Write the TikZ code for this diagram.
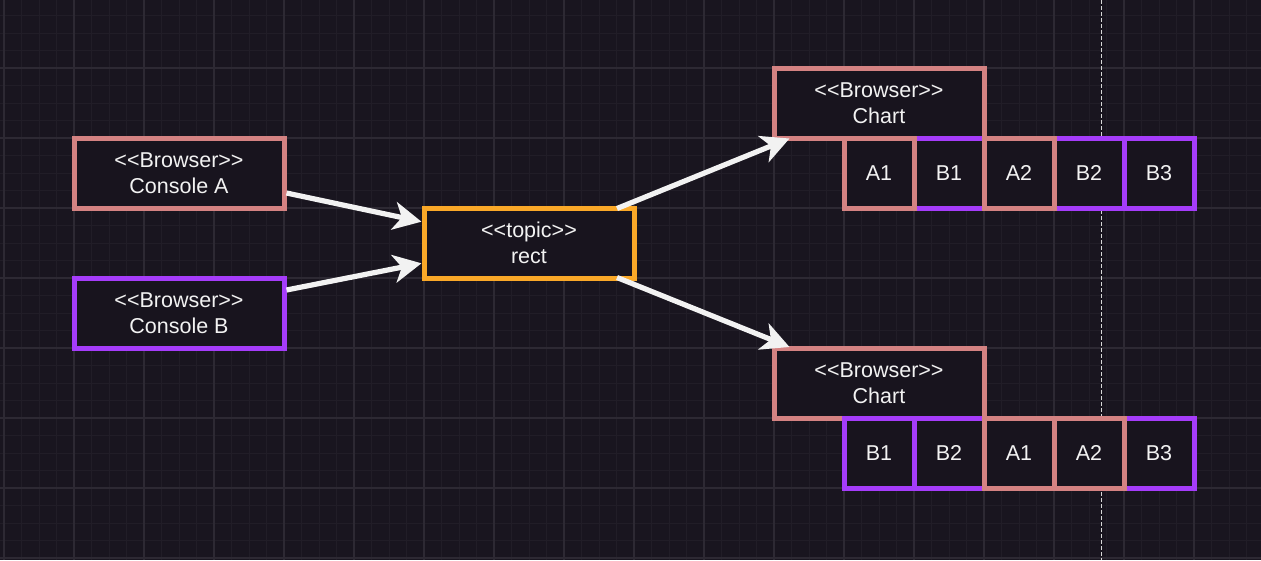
\documentclass[tikz,border=0pt]{standalone}
\usepackage{fontspec}
\setmainfont{Liberation Sans}[Ligatures=NoCommon]
\usetikzlibrary{arrows.meta,calc}
\definecolor{bgc}{RGB}{25,21,31}
\definecolor{fillc}{RGB}{24,20,30}
\definecolor{minorc}{RGB}{33,29,39}
\definecolor{majorc}{RGB}{45,41,51}
\definecolor{pinkc}{RGB}{212,130,130}
\definecolor{purplec}{RGB}{165,60,250}
\definecolor{orangec}{RGB}{250,168,40}
\definecolor{txtc}{RGB}{242,242,242}
\definecolor{arrc}{RGB}{242,242,242}
\definecolor{dashc}{RGB}{215,215,215}
\newcommand{\lt}{<\kern0pt<}
\newcommand{\gt}{>\kern0pt>}
\begin{document}
\begin{tikzpicture}[x=1pt,y=-1pt,
  box/.style={rectangle, draw=#1, fill=fillc, line width=5pt, minimum width=210pt, minimum height=70pt, inner sep=0pt, align=center, text=txtc, font=\fontsize{21.5}{26.5}\selectfont},
  cell/.style={rectangle, draw=#1, fill=fillc, line width=5pt, minimum width=70pt, minimum height=70pt, inner sep=0pt, text=txtc, font=\fontsize{21.5}{26.5}\selectfont},
  flow/.style={draw=arrc, line width=5.2pt, -{Stealth[length=28pt,width=28pt,inset=8pt]}},
  minorgrid/.style={draw=minorc, line width=1pt},
  majorgrid/.style={draw=majorc, line width=1.2pt},
  guide/.style={draw=dashc, line width=1pt, dash pattern=on 4pt off 2pt}]
\fill[bgc] (0,0) rectangle (1261,560);
\useasboundingbox (0,0) rectangle (1261,560);
% grid
\foreach \i in {0,...,71} {\draw[minorgrid] ({4+17.5*\i},0) -- ({4+17.5*\i},560);}
\foreach \i in {1,...,32} {\draw[minorgrid] (0,{-2+17.5*\i}) -- (1261,{-2+17.5*\i});}
\foreach \i in {0,...,17} {\draw[majorgrid] ({4+70*\i},0) -- ({4+70*\i},560);}
\foreach \i in {1,...,8} {\draw[majorgrid] (0,{-2+70*\i}) -- (1261,{-2+70*\i});}
\coordinate (gtop) at (1101.5,0);
\coordinate (gbot) at (1101.5,560);
\draw[guide] (gtop) -- (gbot);
% nodes
\node[box=pinkc] (ca) at (179,173) {\lt Browser\gt\\Console A};
\node[box=purplec] (cb) at (179,313) {\lt Browser\gt\\Console B};
\node[box=orangec] (topic) at (529,243) {\lt topic\gt\\rect};
\node[box=pinkc] (ch1) at (879,103) {\lt Browser\gt\\Chart};
\node[box=pinkc] (ch2) at (879,383) {\lt Browser\gt\\Chart};
% chart 1 cells
\node[cell=purplec] (p1b1) at (949,173) {B1};
\node[cell=purplec] (p1b2) at (1089,173) {B2};
\node[cell=purplec] (p1b3) at (1159,173) {B3};
\node[cell=pinkc] (p1a1) at (879,173) {A1};
\node[cell=pinkc] (p1a2) at (1019,173) {A2};
% chart 2 cells
\node[cell=purplec] (p2b1) at (879,453) {B1};
\node[cell=purplec] (p2b2) at (949,453) {B2};
\node[cell=purplec] (p2b3) at (1159,453) {B3};
\node[cell=pinkc] (p2a1) at (1019,453) {A1};
\node[cell=pinkc] (p2a2) at (1089,453) {A2};
% connectors
\draw[flow] ($(ca.east)+(0,20)$) -- ($(topic.west)+(0,-21.3)$);
\draw[flow] ($(cb.east)+(0,-23)$) -- ($(topic.west)+(0,20.3)$);
\draw[flow] ($(topic.north east)+(-19.5,3)$) -- ($(ch1.south west)+(18,-2)$);
\draw[flow] ($(topic.south east)+(-19.5,-3)$) -- ($(ch2.north west)+(18,1.5)$);
\end{tikzpicture}
\end{document}
